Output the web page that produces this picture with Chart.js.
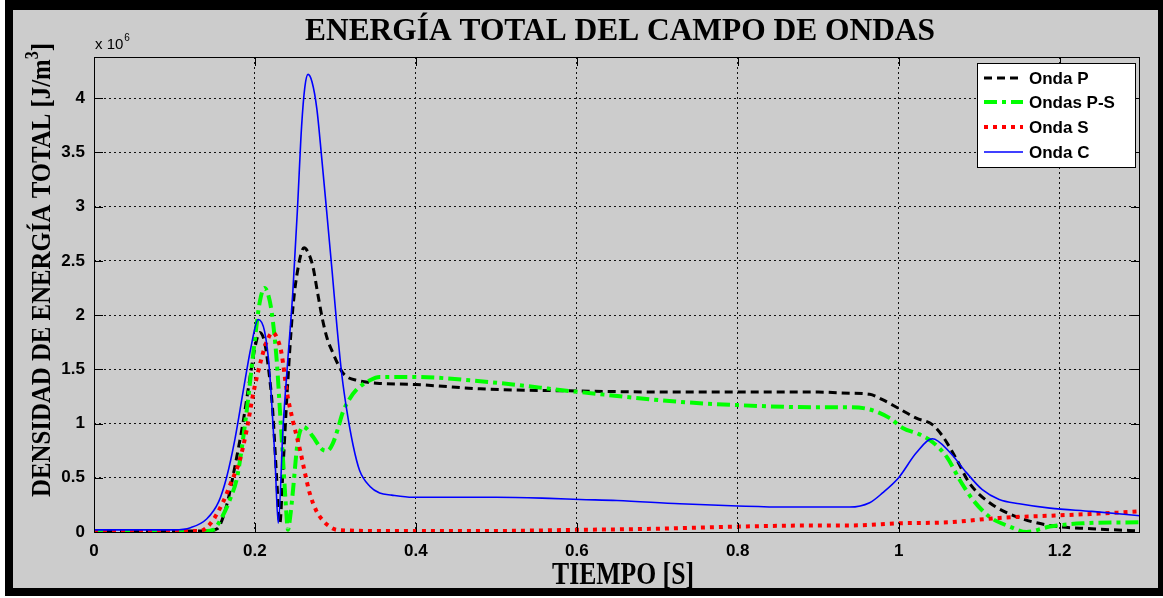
<!DOCTYPE html>
<html>
<head>
<meta charset="utf-8">
<script src="https://cdn.jsdelivr.net/npm/chart.js@4.4.0/dist/chart.umd.min.js"></script>
<style>
body { margin: 0; background: #fff; }
canvas { display: block; }
</style>
</head>
<body>
<canvas id="myChart" width="1163" height="598"></canvas>
<script>
// tiempo [s] and energy density [x 10^6 J/m^3]

const tOndaP = [0, 0.14, 0.153, 0.165, 0.175, 0.185, 0.194, 0.200, 0.206, 0.212, 0.217, 0.222, 0.227, 0.231, 0.235, 0.240, 0.247, 0.254, 0.261, 0.266, 0.272, 0.278, 0.284, 0.290, 0.297, 0.303, 0.309, 0.317, 0.326, 0.34, 0.355, 0.40, 0.48, 0.604, 0.728, 0.8, 0.9, 0.939, 0.964, 0.98, 1.0, 1.022, 1.042, 1.055, 1.072, 1.088, 1.113, 1.147, 1.188, 1.24, 1.3];
const ondaP = [0.01, 0.01, 0.03, 0.25, 0.6, 1.0, 1.43, 1.7, 1.84, 1.75, 1.5, 1.13, 0.5, 0.08, 0.6, 1.28, 2.05, 2.45, 2.62, 2.58, 2.45, 2.2, 1.96, 1.78, 1.65, 1.55, 1.47, 1.42, 1.40, 1.38, 1.37, 1.36, 1.32, 1.30, 1.29, 1.29, 1.29, 1.28, 1.27, 1.22, 1.14, 1.05, 0.99, 0.88, 0.67, 0.45, 0.27, 0.14, 0.06, 0.03, 0.01];

const tOndasPS = [0, 0.14, 0.148, 0.16, 0.17, 0.178, 0.19, 0.198, 0.206, 0.212, 0.216, 0.221, 0.227, 0.231, 0.235, 0.238, 0.241, 0.244, 0.247, 0.253, 0.26, 0.266, 0.272, 0.284, 0.29, 0.297, 0.303, 0.309, 0.317, 0.326, 0.343, 0.355, 0.396, 0.48, 0.604, 0.728, 0.8, 0.9, 0.939, 0.964, 0.989, 1.005, 1.026, 1.042, 1.06, 1.076, 1.092, 1.113, 1.138, 1.159, 1.188, 1.229, 1.3];
const ondasPS = [0.01, 0.01, 0.02, 0.15, 0.32, 0.51, 1.13, 1.65, 2.12, 2.25, 2.2, 2.02, 1.59, 1.13, 0.66, 0.3, 0.02, 0.15, 0.36, 0.82, 0.97, 0.94, 0.88, 0.76, 0.75, 0.82, 0.95, 1.10, 1.22, 1.31, 1.40, 1.43, 1.43, 1.39, 1.29, 1.20, 1.17, 1.15, 1.15, 1.13, 1.05, 0.96, 0.90, 0.83, 0.69, 0.48, 0.30, 0.14, 0.05, 0.0, 0.05, 0.08, 0.09];

const tOndaS = [0, 0.132, 0.145, 0.16, 0.17, 0.181, 0.19, 0.198, 0.21, 0.216, 0.222, 0.228, 0.233, 0.240, 0.247, 0.256, 0.262, 0.268, 0.276, 0.284, 0.293, 0.302, 0.35, 0.5, 0.6, 0.7, 0.8, 0.9, 0.939, 1.0, 1.063, 1.125, 1.188, 1.25, 1.3];
const ondaS = [0.01, 0.01, 0.08, 0.27, 0.45, 0.66, 0.95, 1.28, 1.65, 1.78, 1.84, 1.78, 1.65, 1.28, 1.03, 0.76, 0.55, 0.36, 0.2, 0.11, 0.05, 0.02, 0.01, 0.01, 0.02, 0.03, 0.05, 0.06, 0.06, 0.08, 0.09, 0.13, 0.15, 0.17, 0.19];

const tOndaC = [0, 0.10, 0.12, 0.14, 0.155, 0.165, 0.175, 0.185, 0.195, 0.204, 0.212, 0.218, 0.225, 0.229, 0.235, 0.241, 0.247, 0.253, 0.258, 0.262, 0.266, 0.271, 0.277, 0.283, 0.289, 0.296, 0.302, 0.308, 0.314, 0.322, 0.330, 0.343, 0.355, 0.37, 0.396, 0.45, 0.5, 0.566, 0.604, 0.65, 0.728, 0.8, 0.86, 0.914, 0.939, 0.964, 0.98, 1.0, 1.022, 1.042, 1.063, 1.084, 1.104, 1.125, 1.15, 1.188, 1.24, 1.3];
const ondaC = [0.02, 0.02, 0.04, 0.12, 0.28, 0.51, 0.85, 1.28, 1.70, 1.96, 1.85, 1.5, 0.66, 0.08, 0.97, 1.6, 2.2, 3.0, 3.74, 4.1, 4.22, 4.15, 3.9, 3.45, 2.97, 2.4, 1.89, 1.45, 1.13, 0.8, 0.57, 0.42, 0.36, 0.34, 0.32, 0.32, 0.32, 0.31, 0.30, 0.29, 0.26, 0.24, 0.23, 0.23, 0.23, 0.27, 0.36, 0.50, 0.73, 0.86, 0.74, 0.55, 0.39, 0.30, 0.26, 0.22, 0.19, 0.15];

const seriesNames = ['Onda P', 'Ondas P-S', 'Onda S', 'Onda C'];
const xTicks = [0, 0.2, 0.4, 0.6, 0.8, 1, 1.2];
const yTicks = [0, 0.5, 1, 1.5, 2, 2.5, 3, 3.5, 4];

function toXY(t, v) {
    return t.map((x, i) => ({ x: x, y: v[i] }));
}

// draw text squeezed to a given width (the original fonts are narrow)
function squeezedText(ctx, parts, cx, cy, width) {
    let total = 0;
    parts.forEach(p => { ctx.font = p.font; p.w = ctx.measureText(p.text).width; total += p.w; });
    let sx = width / total;
    ctx.save();
    ctx.translate(cx, cy);
    ctx.scale(sx, 1);
    let x = -total / 2;
    parts.forEach(p => {
        ctx.font = p.font;
        ctx.textAlign = 'left';
        ctx.textBaseline = 'alphabetic';
        ctx.fillText(p.text, x, p.dy || 0);
        x += p.w;
    });
    ctx.restore();
}

const framePlugin = {
    id: 'frame',
    beforeDraw(chart) {
        const c = chart.ctx;
        c.save();
        c.fillStyle = '#ffffff';
        c.fillRect(0, 0, 1163, 598);
        c.fillStyle = '#000000';
        c.fillRect(5, 0, 1158, 596);
        c.fillStyle = '#cccccc';
        c.fillRect(13, 10, 1145, 578);
        c.restore();
    },
    afterDraw(chart) {
        const c = chart.ctx;
        const a = chart.chartArea;
        c.save();
        // axes box + inward ticks
        c.strokeStyle = '#000';
        c.lineWidth = 1;
        c.strokeRect(a.left + 0.5, a.top + 0.5, a.right - a.left - 1, a.bottom - a.top);
        const xs = chart.scales.x, ys = chart.scales.y;
        c.beginPath();
        xTicks.forEach(v => {
            let px = Math.round(xs.getPixelForValue(v)) + 0.5;
            c.moveTo(px, a.bottom); c.lineTo(px, a.bottom - 9);
            c.moveTo(px, a.top); c.lineTo(px, a.top + 9);
        });
        yTicks.forEach(v => {
            let py = Math.round(ys.getPixelForValue(v)) + 0.5;
            c.moveTo(a.left, py); c.lineTo(a.left + 9, py);
            c.moveTo(a.right, py); c.lineTo(a.right - 9, py);
        });
        c.stroke();

        // titles
        c.fillStyle = '#000';
        squeezedText(c, [{ text: 'ENERGÍA TOTAL DEL CAMPO DE ONDAS', font: 'bold 32px "Liberation Serif"' }], 620, 40, 630);
        squeezedText(c, [{ text: 'TIEMPO [S]', font: 'bold 31px "Liberation Serif"' }], 623, 584, 142);
        c.save();
        c.translate(50, 270);
        c.rotate(-Math.PI / 2);
        squeezedText(c, [
            { text: 'DENSIDAD DE ENERGÍA TOTAL [J/m', font: 'bold 28px "Liberation Serif"' },
            { text: '3', font: 'bold 18px "Liberation Serif"', dy: -12 },
            { text: ']', font: 'bold 28px "Liberation Serif"' }
        ], 0, 0, 454);
        c.restore();

        // x 10^6 multiplier
        c.font = '15px "Liberation Sans"';
        c.textAlign = 'left';
        c.textBaseline = 'alphabetic';
        c.fillText('x 10', 95, 49);
        let mw = c.measureText('x 10').width;
        c.font = '10px "Liberation Sans"';
        c.fillText('6', 95 + mw + 1, 41);

        // legend box
        const lx = 977, ly = 63, lw = 158, lh = 104;
        c.fillStyle = '#ffffff';
        c.fillRect(lx, ly, lw, lh);
        c.strokeStyle = '#000';
        c.lineWidth = 1;
        c.strokeRect(lx + 0.5, ly + 0.5, lw, lh);
        const rowsY = [78, 102, 127, 152];
        chart.data.datasets.forEach((ds, i) => {
            c.save();
            c.strokeStyle = ds.borderColor;
            c.lineWidth = ds.borderWidth;
            c.setLineDash(ds.borderDash || []);
            c.lineCap = 'butt';
            c.beginPath();
            c.moveTo(984, rowsY[i]);
            c.lineTo(1023, rowsY[i]);
            c.stroke();
            c.restore();
            c.fillStyle = '#000';
            c.font = 'bold 17px "Liberation Sans"';
            c.textBaseline = 'middle';
            c.fillText(ds.label, 1029, rowsY[i] + 1);
        });
        c.restore();
    }
};

const chart = new Chart('myChart', {
    type: 'line',
    data: {
        datasets: [{
            label: seriesNames[0],
            data: toXY(tOndaP, ondaP),
            borderColor: '#000000',
            borderWidth: 3,
            borderDash: [8, 5],
            order: 3
        }, {
            label: seriesNames[1],
            data: toXY(tOndasPS, ondasPS),
            borderColor: '#00ff00',
            borderWidth: 4,
            borderDash: [13, 5, 4, 5],
            order: 2
        }, {
            label: seriesNames[2],
            data: toXY(tOndaS, ondaS),
            borderColor: '#ff0000',
            borderWidth: 4,
            borderDash: [4, 5],
            order: 1
        }, {
            label: seriesNames[3],
            data: toXY(tOndaC, ondaC),
            borderColor: '#0000ff',
            borderWidth: 1.6,
            order: 0
        }]
    },
    options: {
        responsive: false,
        animation: false,
        devicePixelRatio: 1,
        layout: { padding: { left: 0, top: 57, right: 23, bottom: 0 } },
        elements: {
            point: { radius: 0 },
            line: { fill: false, cubicInterpolationMode: 'monotone', borderCapStyle: 'butt' }
        },
        plugins: {
            legend: { display: false },
            tooltip: { enabled: false },
            title: { display: false }
        },
        scales: {
            x: {
                type: 'linear',
                min: 0,
                max: 1.3,
                afterBuildTicks: s => { s.ticks = xTicks.map(v => ({ value: v })); },
                afterFit: s => { s.height = 66; },
                grid: { color: '#111', lineWidth: 1, drawTicks: false },
                border: { display: false, dash: [2, 3] },
                ticks: {
                    color: '#000',
                    font: { family: 'Liberation Sans', size: 17, weight: 'bold' },
                    padding: 9,
                    maxRotation: 0,
                    autoSkip: false,
                    callback: v => String(+v.toFixed(1))
                }
            },
            y: {
                min: 0,
                max: 4.38,
                afterBuildTicks: s => { s.ticks = yTicks.map(v => ({ value: v })); },
                afterFit: s => { s.width = 94; },
                grid: { color: '#111', lineWidth: 1, drawTicks: false },
                border: { display: false, dash: [2, 3] },
                ticks: {
                    color: '#000',
                    font: { family: 'Liberation Sans', size: 17, weight: 'bold' },
                    padding: 9,
                    autoSkip: false,
                    callback: v => String(+v.toFixed(1))
                }
            }
        }
    },
    plugins: [framePlugin]
});
</script>
</body>
</html>
